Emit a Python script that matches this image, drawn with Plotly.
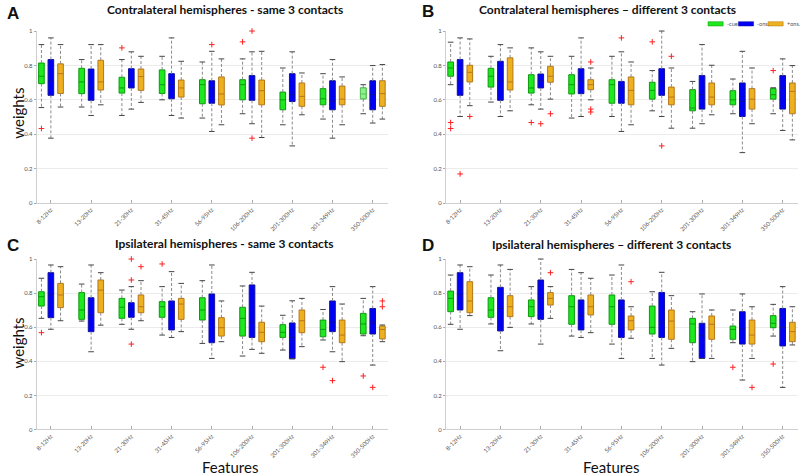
import plotly.graph_objects as go

CATEGORIES = ["8-12Hz", "13-20Hz", "21-30Hz", "31-45Hz", "56-95Hz",
              "106-200Hz", "201-300Hz", "301-349Hz", "350-500Hz"]
CONDITIONS = ["-cue.", "-ons.", "+ons."]
TITLES = ["Contralateral hemispheres - same 3 contacts",
          "Contralateral hemispheres \u2013 different 3 contacts",
          "Ipsilateral hemispheres - same 3 contacts",
          "Ipsilateral hemispheres \u2013 different 3 contacts"]
LETTERS = ["A", "B", "C", "D"]
Y_TITLE = "weights"
X_TITLE = "Features"

# ---------------- Panel A ----------------
A_CUE_LO = [0.555, 0.558, 0.509, 0.600, 0.494, 0.519, 0.455, 0.488, 0.519]
A_CUE_Q1 = [0.694, 0.636, 0.639, 0.637, 0.577, 0.600, 0.542, 0.571, 0.606]
A_CUE_MED = [0.737, 0.704, 0.669, 0.688, 0.688, 0.688, 0.600, 0.606, 0.634]
A_CUE_Q3 = [0.814, 0.783, 0.731, 0.774, 0.717, 0.717, 0.645, 0.665, 0.669]
A_CUE_HI = [0.921, 0.834, 0.834, 0.853, 0.820, 0.838, 0.785, 0.752, 0.688]
A_CUE_OUT = [(0, 0.433), (2, 0.902), (5, 0.937)]

A_ONS_LO = [0.377, 0.509, 0.546, 0.509, 0.416, 0.461, 0.332, 0.377, 0.465]
A_ONS_Q1 = [0.626, 0.597, 0.669, 0.606, 0.580, 0.597, 0.590, 0.542, 0.542]
A_ONS_MED = [0.710, 0.669, 0.710, 0.690, 0.669, 0.669, 0.630, 0.591, 0.630]
A_ONS_Q3 = [0.834, 0.779, 0.781, 0.752, 0.711, 0.741, 0.752, 0.711, 0.711]
A_ONS_HI = [0.960, 0.921, 0.879, 0.960, 0.882, 0.879, 0.879, 0.834, 0.799]
A_ONS_OUT = [(4, 0.921), (5, 1.0), (5, 0.377)]

A_PONS_LO = [0.558, 0.571, 0.585, 0.494, 0.455, 0.381, 0.513, 0.455, 0.488]
A_PONS_Q1 = [0.637, 0.657, 0.655, 0.616, 0.570, 0.571, 0.562, 0.571, 0.562]
A_PONS_MED = [0.752, 0.704, 0.735, 0.669, 0.634, 0.653, 0.620, 0.604, 0.636]
A_PONS_Q3 = [0.809, 0.830, 0.779, 0.715, 0.733, 0.715, 0.698, 0.680, 0.711]
A_PONS_HI = [0.921, 0.921, 0.853, 0.824, 0.838, 0.882, 0.756, 0.733, 0.805]
A_PONS_OUT = []

# ---------------- Panel B ----------------
B_CUE_LO = [0.688, 0.587, 0.571, 0.494, 0.503, 0.536, 0.435, 0.519, 0.519]
B_CUE_Q1 = [0.737, 0.674, 0.639, 0.634, 0.580, 0.604, 0.536, 0.571, 0.604]
B_CUE_MED = [0.785, 0.737, 0.669, 0.688, 0.688, 0.655, 0.552, 0.600, 0.630]
B_CUE_Q3 = [0.820, 0.783, 0.746, 0.746, 0.717, 0.702, 0.659, 0.653, 0.665]
B_CUE_HI = [0.935, 0.853, 0.902, 0.853, 0.853, 0.770, 0.707, 0.721, 0.670]
B_CUE_OUT = [(0, 0.468), (0, 0.433), (2, 0.468), (5, 0.937), (8, 0.770)]

B_ONS_LO = [0.503, 0.503, 0.546, 0.503, 0.416, 0.503, 0.461, 0.293, 0.422]
B_ONS_Q1 = [0.626, 0.597, 0.669, 0.636, 0.580, 0.626, 0.546, 0.503, 0.546]
B_ONS_MED = [0.710, 0.710, 0.710, 0.710, 0.669, 0.710, 0.630, 0.591, 0.669]
B_ONS_Q3 = [0.834, 0.824, 0.750, 0.781, 0.707, 0.781, 0.741, 0.698, 0.741]
B_ONS_HI = [0.960, 0.921, 0.879, 0.960, 0.879, 1.000, 0.921, 0.882, 0.838]
B_ONS_OUT = [(0, 0.169), (2, 0.461), (4, 0.960), (5, 0.332)]

B_PONS_LO = [0.566, 0.536, 0.604, 0.600, 0.455, 0.435, 0.513, 0.461, 0.367]
B_PONS_Q1 = [0.704, 0.657, 0.702, 0.659, 0.571, 0.571, 0.571, 0.546, 0.519]
B_PONS_MED = [0.760, 0.704, 0.737, 0.688, 0.655, 0.616, 0.616, 0.604, 0.649]
B_PONS_Q3 = [0.801, 0.844, 0.795, 0.717, 0.733, 0.674, 0.698, 0.665, 0.698]
B_PONS_HI = [0.954, 0.902, 0.853, 0.785, 0.820, 0.785, 0.801, 0.785, 0.799]
B_PONS_OUT = [(0, 0.503), (2, 0.519), (3, 0.820), (3, 0.546), (3, 0.529), (5, 0.853)]

# ---------------- Panel C ----------------
C_CUE_LO = [0.652, 0.636, 0.617, 0.554, 0.505, 0.431, 0.466, 0.525, 0.550]
C_CUE_Q1 = [0.724, 0.646, 0.652, 0.658, 0.642, 0.548, 0.540, 0.544, 0.560]
C_CUE_MED = [0.779, 0.701, 0.717, 0.720, 0.701, 0.652, 0.570, 0.587, 0.619]
C_CUE_Q3 = [0.808, 0.803, 0.769, 0.750, 0.773, 0.717, 0.615, 0.642, 0.681]
C_CUE_HI = [0.887, 0.853, 0.818, 0.838, 0.873, 0.842, 0.670, 0.704, 0.769]
C_CUE_OUT = [(0, 0.568), (3, 0.971), (7, 0.365), (8, 0.314)]

C_ONS_LO = [0.588, 0.456, 0.588, 0.540, 0.417, 0.470, 0.415, 0.456, 0.378]
C_ONS_Q1 = [0.656, 0.574, 0.658, 0.584, 0.509, 0.540, 0.415, 0.574, 0.560]
C_ONS_MED = [0.790, 0.670, 0.700, 0.700, 0.670, 0.630, 0.540, 0.630, 0.630]
C_ONS_Q3 = [0.920, 0.773, 0.744, 0.754, 0.795, 0.848, 0.625, 0.754, 0.710]
C_ONS_HI = [0.965, 0.965, 0.838, 0.926, 0.965, 0.922, 0.755, 0.838, 0.838]
C_ONS_OUT = [(2, 1.0), (2, 0.877), (2, 0.501), (7, 0.287), (8, 0.247)]

C_PONS_LO = [0.638, 0.612, 0.638, 0.574, 0.515, 0.447, 0.486, 0.398, 0.515]
C_PONS_Q1 = [0.715, 0.685, 0.685, 0.646, 0.548, 0.515, 0.568, 0.509, 0.531]
C_PONS_MED = [0.789, 0.818, 0.720, 0.736, 0.597, 0.570, 0.638, 0.554, 0.587]
C_PONS_Q3 = [0.857, 0.877, 0.789, 0.769, 0.656, 0.629, 0.701, 0.642, 0.607]
C_PONS_HI = [0.955, 0.920, 0.873, 0.857, 0.754, 0.724, 0.769, 0.736, 0.613]
C_PONS_OUT = [(2, 0.955), (8, 0.754), (8, 0.720)]

# ---------------- Panel D ----------------
D_CUE_LO = [0.617, 0.619, 0.619, 0.548, 0.501, 0.417, 0.398, 0.509, 0.548]
D_CUE_Q1 = [0.691, 0.658, 0.662, 0.617, 0.617, 0.560, 0.509, 0.529, 0.597]
D_CUE_MED = [0.769, 0.701, 0.720, 0.720, 0.720, 0.599, 0.619, 0.587, 0.623]
D_CUE_Q3 = [0.812, 0.773, 0.760, 0.785, 0.789, 0.724, 0.652, 0.607, 0.668]
D_CUE_HI = [0.906, 0.906, 0.838, 0.939, 0.906, 0.808, 0.691, 0.701, 0.734]
D_CUE_OUT = [(7, 0.365), (8, 0.384)]

D_ONS_LO = [0.588, 0.462, 0.501, 0.540, 0.417, 0.378, 0.417, 0.290, 0.247]
D_ONS_Q1 = [0.701, 0.578, 0.646, 0.584, 0.540, 0.540, 0.417, 0.501, 0.490]
D_ONS_MED = [0.790, 0.710, 0.770, 0.670, 0.710, 0.630, 0.550, 0.590, 0.600]
D_ONS_Q3 = [0.920, 0.834, 0.877, 0.760, 0.760, 0.804, 0.623, 0.691, 0.710]
D_ONS_HI = [0.965, 0.965, 1.000, 0.920, 0.965, 0.922, 0.795, 0.795, 0.838]
D_ONS_OUT = []

D_PONS_LO = [0.668, 0.599, 0.652, 0.568, 0.535, 0.476, 0.417, 0.417, 0.496]
D_PONS_Q1 = [0.685, 0.662, 0.730, 0.672, 0.584, 0.529, 0.529, 0.501, 0.515]
D_PONS_MED = [0.754, 0.720, 0.769, 0.720, 0.638, 0.636, 0.617, 0.554, 0.574]
D_PONS_Q3 = [0.867, 0.785, 0.803, 0.789, 0.666, 0.701, 0.666, 0.642, 0.629]
D_PONS_HI = [0.955, 0.939, 0.838, 0.887, 0.720, 0.785, 0.701, 0.720, 0.720]
D_PONS_OUT = [(2, 0.920), (4, 0.867), (7, 0.247)]

PANELS = [
    [(A_CUE_LO, A_CUE_Q1, A_CUE_MED, A_CUE_Q3, A_CUE_HI, A_CUE_OUT),
     (A_ONS_LO, A_ONS_Q1, A_ONS_MED, A_ONS_Q3, A_ONS_HI, A_ONS_OUT),
     (A_PONS_LO, A_PONS_Q1, A_PONS_MED, A_PONS_Q3, A_PONS_HI, A_PONS_OUT)],
    [(B_CUE_LO, B_CUE_Q1, B_CUE_MED, B_CUE_Q3, B_CUE_HI, B_CUE_OUT),
     (B_ONS_LO, B_ONS_Q1, B_ONS_MED, B_ONS_Q3, B_ONS_HI, B_ONS_OUT),
     (B_PONS_LO, B_PONS_Q1, B_PONS_MED, B_PONS_Q3, B_PONS_HI, B_PONS_OUT)],
    [(C_CUE_LO, C_CUE_Q1, C_CUE_MED, C_CUE_Q3, C_CUE_HI, C_CUE_OUT),
     (C_ONS_LO, C_ONS_Q1, C_ONS_MED, C_ONS_Q3, C_ONS_HI, C_ONS_OUT),
     (C_PONS_LO, C_PONS_Q1, C_PONS_MED, C_PONS_Q3, C_PONS_HI, C_PONS_OUT)],
    [(D_CUE_LO, D_CUE_Q1, D_CUE_MED, D_CUE_Q3, D_CUE_HI, D_CUE_OUT),
     (D_ONS_LO, D_ONS_Q1, D_ONS_MED, D_ONS_Q3, D_ONS_HI, D_ONS_OUT),
     (D_PONS_LO, D_PONS_Q1, D_PONS_MED, D_PONS_Q3, D_PONS_HI, D_PONS_OUT)],
]

# ---------------- styling ----------------
FILLS = ["#1ee81e", "#0000f5", "#edb120"]
LINES = ["#0c9a0c", "#1010a0", "#b5761a"]
OFFSETS = [-0.235, 0.0, 0.24]
BOX_W = 0.14
LIGHT_FILL = "#8ef08e"   # highlighted box: panel A, last category, -cue.

X_DOMAINS = [[0.046, 0.485], [0.5575, 0.9975], [0.046, 0.485], [0.5575, 0.9975]]
Y_DOMAINS = [[0.5726, 0.9347], [0.5726, 0.9347], [0.0958, 0.4547], [0.0958, 0.4547]]

fig = go.Figure()

for p, panel in enumerate(PANELS):
    xa = "x" if p == 0 else f"x{p+1}"
    ya = "y" if p == 0 else f"y{p+1}"
    for c, (lo, q1, med, q3, hi, out) in enumerate(panel):
        xs = [i + OFFSETS[c] for i in range(len(CATEGORIES))]
        wx, wy = [], []
        for i in range(len(xs)):
            wx += [xs[i], xs[i], None, xs[i], xs[i], None]
            wy += [q3[i], hi[i], None, q1[i], lo[i], None]
        fig.add_trace(go.Scatter(x=wx, y=wy, mode="lines", xaxis=xa, yaxis=ya,
                                 line=dict(color="#8a8a8a", width=1, dash="3px,2px"),
                                 showlegend=False, hoverinfo="skip"))
        fig.add_trace(go.Scatter(x=xs + xs, y=list(hi) + list(lo), mode="markers",
                                 xaxis=xa, yaxis=ya, cliponaxis=False,
                                 marker=dict(symbol="line-ew", size=4,
                                             line=dict(color="#444444", width=1)),
                                 showlegend=False, hoverinfo="skip"))
        fig.add_trace(go.Box(x=xs, q1=q1, median=med, q3=q3,
                             lowerfence=q1, upperfence=q3,
                             xaxis=xa, yaxis=ya, width=BOX_W, whiskerwidth=0,
                             fillcolor=FILLS[c],
                             line=dict(color=LINES[c], width=1),
                             name=CONDITIONS[c], showlegend=False))
        if p == 0 and c == 0:
            k = len(CATEGORIES) - 1
            fig.add_trace(go.Box(x=[xs[k]], q1=[q1[k]], median=[med[k]], q3=[q3[k]],
                                 lowerfence=[q1[k]], upperfence=[q3[k]],
                                 xaxis=xa, yaxis=ya, width=BOX_W, whiskerwidth=0,
                                 fillcolor=LIGHT_FILL,
                                 line=dict(color="#5cc45c", width=1),
                                 showlegend=False))
        if out:
            fig.add_trace(go.Scatter(x=[o[0] + OFFSETS[c] for o in out],
                                     y=[o[1] for o in out], mode="markers",
                                     xaxis=xa, yaxis=ya, cliponaxis=False,
                                     marker=dict(symbol="cross-thin", size=4,
                                                 line=dict(color="#ff2020", width=1)),
                                     showlegend=False, hoverinfo="skip"))

layout = dict(
    width=800, height=475,
    margin=dict(l=0, r=0, t=0, b=0),
    paper_bgcolor="white", plot_bgcolor="white",
    boxmode="overlay", showlegend=False,
    font=dict(family="Lato", color="#555555"),
)
for p in range(4):
    sx = "" if p == 0 else str(p + 1)
    layout["xaxis" + sx] = dict(
        domain=X_DOMAINS[p], anchor="y" + sx, range=[-0.35, 8.38], automargin=False,
        tickmode="array", tickvals=list(range(len(CATEGORIES))), ticktext=CATEGORIES,
        tickangle=-45, tickfont=dict(size=6, color="#555555", family="Lato"),
        showgrid=False, zeroline=False, showline=True, linecolor="#cfcfcf",
        linewidth=1, ticks="inside", ticklen=3, tickcolor="#aaaaaa",
    )
    layout["yaxis" + sx] = dict(
        domain=Y_DOMAINS[p], anchor="x" + sx, range=[0, 1.0], dtick=0.2, tick0=0,
        automargin=False,
        tickfont=dict(size=6, color="#555555", family="Lato"),
        showgrid=True, gridcolor="#ececec", gridwidth=1, zeroline=False,
        showline=True, linecolor="#cfcfcf", linewidth=1,
        ticks="outside", ticklen=2, tickcolor="#aaaaaa",
    )

TITLE_POS = [(0.281, 0.979), (0.759, 0.979), (0.281, 0.488), (0.764, 0.486)]
LETTER_POS = [(0.016, 0.972), (0.535, 0.976), (0.016, 0.484), (0.535, 0.484)]
ann = []
for p in range(4):
    ann.append(dict(text="<b>%s</b>" % TITLES[p], x=TITLE_POS[p][0], y=TITLE_POS[p][1],
                    xref="paper", yref="paper", showarrow=False,
                    xanchor="center", yanchor="middle",
                    font=dict(size=12, color="#111111", family="Lato")))
    ann.append(dict(text="<b>%s</b>" % LETTERS[p], x=LETTER_POS[p][0], y=LETTER_POS[p][1],
                    xref="paper", yref="paper", showarrow=False,
                    xanchor="center", yanchor="middle",
                    font=dict(size=17, color="#111111", family="Liberation Sans")))
for yy in (0.762, 0.278):
    ann.append(dict(text=Y_TITLE, x=0.022, y=yy, xref="paper", yref="paper",
                    showarrow=False, textangle=-90, xanchor="center", yanchor="middle",
                    font=dict(size=15, color="#111111", family="Lato")))
for xx in (0.2875, 0.764):
    ann.append(dict(text=X_TITLE, x=xx, y=0.017, xref="paper", yref="paper",
                    showarrow=False, xanchor="center", yanchor="middle",
                    font=dict(size=15, color="#111111", family="Lato")))

LEG_X = [(0.885, 0.904), (0.923, 0.942), (0.960, 0.979)]
shapes = []
for c in range(3):
    shapes.append(dict(type="rect", xref="paper", yref="paper",
                       x0=LEG_X[c][0], x1=LEG_X[c][1], y0=0.9453, y1=0.9543,
                       fillcolor=FILLS[c], line=dict(color=LINES[c], width=0.5)))
    ann.append(dict(text=CONDITIONS[c], x=LEG_X[c][1] + 0.002, y=0.9498,
                    xref="paper", yref="paper", showarrow=False,
                    xanchor="left", yanchor="middle",
                    font=dict(size=5.5, color="#555555", family="Lato")))
layout["annotations"] = ann
layout["shapes"] = shapes

fig.update_layout(**layout)
fig.write_html("out.html", config={"displayModeBar": False},
               post_script="document.body.style.margin='0';document.body.style.padding='0';")
